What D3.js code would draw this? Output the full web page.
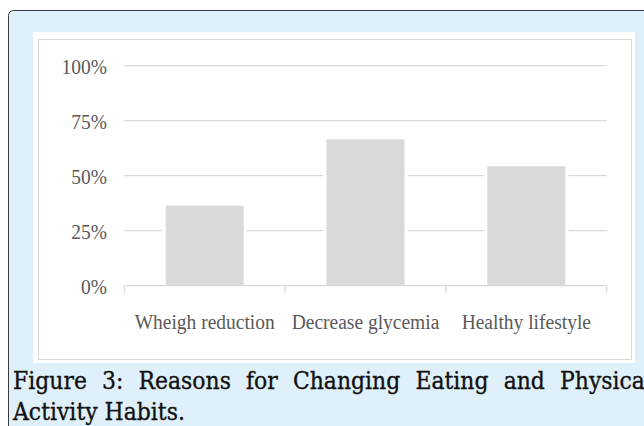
<!DOCTYPE html>
<html lang="en">
<head>
<meta charset="UTF-8">
<title>Reasons for Changing Eating and Physical Activity Habits</title>
<script src="https://cdn.jsdelivr.net/npm/d3@7"></script>
<style>
    body { margin: 0; background: #ffffff; overflow: hidden; }
    svg { display: block; }
</style>
</head>
<body>
<div id="chart"></div>
<script>
    const width = 644;
    const height = 426;

    // data
    const categories = ["Wheigh reduction", "Decrease glycemia", "Healthy lifestyle"];
    const values = [0.364, 0.665, 0.543];
    const yTicks = [0, 0.25, 0.5, 0.75, 1];
    const captionLine1 = "Figure 3: Reasons for Changing Eating and Physical";
    const captionLine2 = "Activity Habits.";

    const svg = d3.select("#chart").append("svg")
        .attr("width", width)
        .attr("height", height);

    // blue figure panel
    svg.append("rect")
        .attr("x", 8.5).attr("y", 10.5)
        .attr("width", 700).attr("height", 500)
        .attr("rx", 5)
        .attr("fill", "#dff0fa")
        .attr("stroke", "#3a3a3a")
        .attr("stroke-width", 1);

    // white chart area with grey frame
    svg.append("rect")
        .attr("x", 33).attr("y", 32)
        .attr("width", 602).attr("height", 331)
        .attr("fill", "#ffffff");
    svg.append("rect")
        .attr("x", 38.5).attr("y", 39.5)
        .attr("width", 593).attr("height", 320)
        .attr("fill", "none")
        .attr("stroke", "#d9d9d9")
        .attr("stroke-width", 1);

    const x = d3.scaleBand()
        .domain(categories)
        .range([124.3, 606.7])
        .paddingInner(0.515)
        .paddingOuter(0.2575);

    const xCat = d3.scaleBand()
        .domain(categories)
        .range([124.3, 606.7]);

    const y = d3.scaleLinear()
        .domain([0, 1])
        .range([285.7, 65.7]);

    // gridlines
    svg.append("g")
        .selectAll("line")
        .data(yTicks.filter(d => d > 0))
        .enter().append("line")
        .attr("x1", 124.3).attr("x2", 606.7)
        .attr("y1", d => y(d)).attr("y2", d => y(d))
        .attr("stroke", "#d9d9d9")
        .attr("stroke-width", 1.3);

    // white halo behind each bar (breaks the gridlines)
    svg.append("g")
        .selectAll("rect")
        .data(values)
        .enter().append("rect")
        .attr("x", (d, i) => x(categories[i]) - 3.3)
        .attr("y", d => y(d) - 3.3)
        .attr("width", x.bandwidth() + 6.6)
        .attr("height", d => y(0) - y(d) + 3.3)
        .attr("fill", "#ffffff");

    // bars
    svg.append("g")
        .selectAll("rect")
        .data(values)
        .enter().append("rect")
        .attr("x", (d, i) => x(categories[i]))
        .attr("y", d => y(d))
        .attr("width", x.bandwidth())
        .attr("height", d => y(0) - y(d))
        .attr("fill", "#d9d9d9");

    // x axis with category boundary ticks
    const xAxis = svg.append("g");
    xAxis.append("line")
        .attr("x1", 124.3).attr("x2", 606.7)
        .attr("y1", y(0)).attr("y2", y(0))
        .attr("stroke", "#d9d9d9")
        .attr("stroke-width", 1.3);
    const bounds = categories.map(c => xCat(c)).concat([xCat.range()[1]]);
    xAxis.selectAll(".tick")
        .data(bounds)
        .enter().append("line")
        .attr("x1", d => d).attr("x2", d => d)
        .attr("y1", y(0)).attr("y2", y(0) + 7)
        .attr("stroke", "#d9d9d9")
        .attr("stroke-width", 1.3);

    xAxis.selectAll("text")
        .data(categories)
        .enter().append("text")
        .attr("transform", d => `translate(${xCat(d) + xCat.bandwidth() / 2},328.5) scale(1,1.12)`)
        .attr("text-anchor", "middle")
        .attr("font-family", "'Liberation Serif', 'Times New Roman', serif")
        .attr("font-size", "19.5px")
        .attr("fill", "#595959")
        .text(d => d);

    // y tick labels
    svg.append("g")
        .selectAll("text")
        .data(yTicks)
        .enter().append("text")
        .attr("transform", d => `translate(107,${y(d) + 8.6}) scale(1,1.1)`)
        .attr("text-anchor", "end")
        .attr("font-family", "'Liberation Serif', 'Times New Roman', serif")
        .attr("font-size", "19.5px")
        .attr("fill", "#595959")
        .text(d => d3.format(".0%")(d));

    // caption: a narrowed serif, first line justified past the right edge
    const capFont = "'DejaVu Serif', serif";
    const capLeft = 13;
    const capRight = 652;
    const cap2 = svg.append("text")
        .attr("font-family", capFont)
        .attr("font-size", "24.5px")
        .attr("fill", "#111111")
        .attr("stroke", "#111111")
        .attr("stroke-width", 0.35)
        .text(captionLine2);
    const squeeze = 172 / cap2.node().getComputedTextLength();
    cap2.attr("transform", `translate(${capLeft},419.5) scale(${squeeze},1)`);

    const words = captionLine1.split(" ");
    const wordNodes = svg.append("g").selectAll("text")
        .data(words)
        .enter().append("text")
        .attr("font-family", capFont)
        .attr("font-size", "24.5px")
        .attr("fill", "#111111")
        .attr("stroke", "#111111")
        .attr("stroke-width", 0.35)
        .text(d => d);
    const widths = wordNodes.nodes().map(n => n.getComputedTextLength() * squeeze);
    const gap = (capRight - capLeft - d3.sum(widths)) / (words.length - 1);
    let cursor = capLeft;
    const starts = widths.map(w => { const s = cursor; cursor += w + gap; return s; });
    wordNodes.attr("transform", (d, i) => `translate(${starts[i]},389) scale(${squeeze},1)`);
</script>
</body>
</html>
